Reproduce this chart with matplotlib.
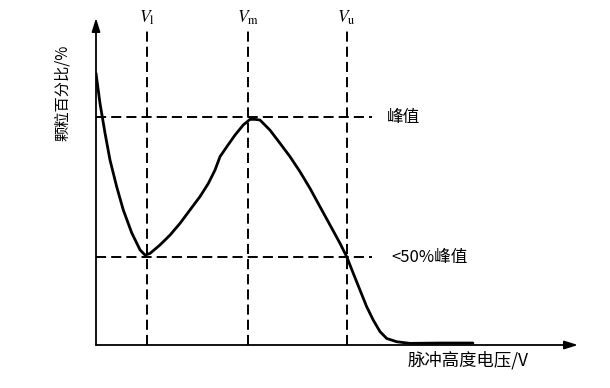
import matplotlib
matplotlib.use("Agg")
import matplotlib.pyplot as plt

# curve (axis units 0..100 on both axes)
volt = [0.0, 0.83, 1.87, 2.90, 4.29, 5.66, 7.41, 9.13, 10.17, 11.20, 13.28,
        15.35, 17.43, 19.50, 21.58, 23.30, 24.69, 25.73, 27.12, 28.84, 30.56,
        31.95, 32.99, 34.02, 36.10, 38.17, 40.25, 42.32, 44.40, 46.47, 48.55,
        50.62, 52.01, 53.38, 54.77, 56.16, 57.53, 58.92, 60.31, 62.38, 65.15,
        71.4, 78.2]
pct = [83.1, 73.9, 64.8, 56.6, 48.4, 41.3, 34.3, 29.1, 27.5, 28.0, 30.6,
       33.6, 37.2, 41.3, 45.4, 49.4, 53.5, 57.6, 60.6, 64.2, 67.3,
       69.0, 69.0, 68.8, 65.7, 61.7, 57.6, 53.0, 47.9, 42.3, 36.7,
       31.1, 27.0, 21.9, 16.8, 11.7, 7.6, 4.1, 2.0, 1.0, 0.5,
       0.6, 0.6]

v_marks = [10.5, 31.5, 52.0]
v_names = [r"$V_{\mathrm{l}}$", r"$V_{\mathrm{m}}$", r"$V_{\mathrm{u}}$"]
levels = [69.7, 26.9]
level_names = ["峰值", "<50%峰值"]
dash_end = 57.3

plt.rcParams["font.family"] = ["Noto Sans CJK SC", "DejaVu Sans"]
plt.rcParams["mathtext.fontset"] = "stix"

fig = plt.figure(figsize=(6.10, 3.88), dpi=100)
ax = fig.add_axes([96 / 610, 43 / 388, 482 / 610, 327 / 388])
ax.set_xlim(0, 100)
ax.set_ylim(0, 100)
ax.axis("off")

dash = (0, (5.2, 2.6))
for x, name in zip(v_marks, v_names):
    ax.plot([x, x], [0, 97], color="black", lw=1.4, linestyle=dash)
    ax.text(x, 100, name, ha="center", va="center", fontsize=12.5, clip_on=False)
for y, name, off in zip(levels, level_names, [3.1, 4.0]):
    ax.plot([0, dash_end], [y, y], color="black", lw=1.4, linestyle=dash)
    ax.text(dash_end + off, y, name, ha="left", va="center", fontsize=12)

ax.plot(volt, pct, color="black", lw=2.0, solid_capstyle="round",
        solid_joinstyle="round")

arrow = dict(arrowstyle="-|>,head_length=0.8,head_width=0.25", color="black",
             lw=1.3, shrinkA=0, shrinkB=0)
ax.annotate("", xy=(100, 0), xytext=(0, 0), arrowprops=arrow, annotation_clip=False)
ax.annotate("", xy=(0, 100), xytext=(0, 0), arrowprops=arrow, annotation_clip=False)

ax.text(77.3, -4.6, "脉冲高度电压/V", ha="center", va="center", fontsize=12.5)
ax.text(-7.0, 77, "颗粒百分比/%", ha="center", va="center", rotation=90, fontsize=11)

fig.savefig("out.png", dpi=100)
